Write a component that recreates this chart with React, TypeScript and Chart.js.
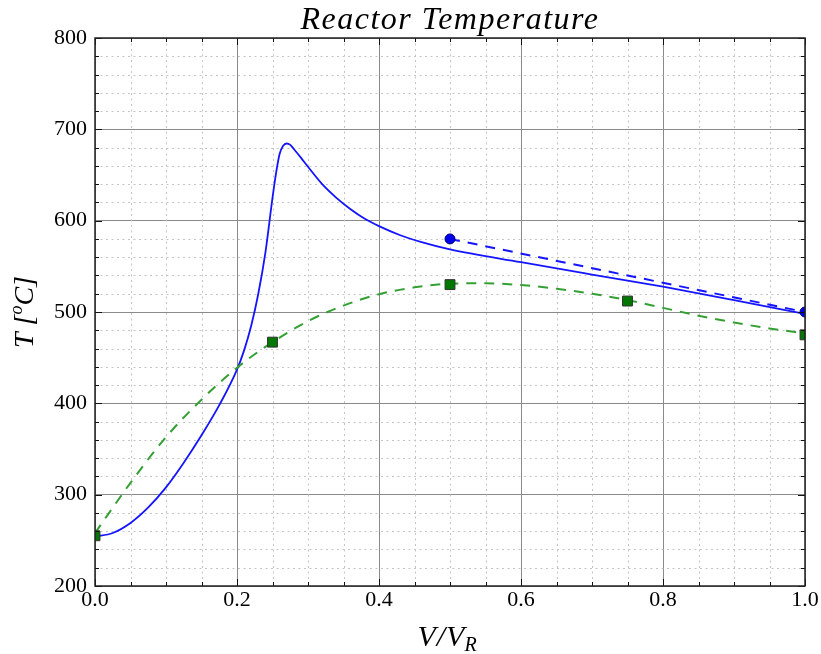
import React, { useEffect, useRef } from 'react';
import { Chart, registerables } from 'chart.js';

Chart.register(...registerables);

// ---- data ----
const blueX = [0, 0.025, 0.05, 0.075, 0.1, 0.125, 0.15, 0.175, 0.2, 0.21, 0.22, 0.23, 0.24, 0.25, 0.255, 0.26, 0.265, 0.27, 0.275, 0.28, 0.29, 0.3, 0.32, 0.34, 0.36, 0.38, 0.4, 0.43, 0.46, 0.5, 0.6, 0.7, 0.8, 0.9, 1.0];
const blueT = [254, 258, 269, 286, 308, 335, 365, 398, 437, 458, 485, 520, 565, 625, 652, 673, 682, 684.5, 683, 678.5, 669, 659, 640, 625, 612.5, 602, 594, 584, 576.5, 568.5, 554.5, 541, 527.7, 513, 498];

const blueDashX = [0.5, 1.0];
const blueDashT = [580, 500];

const greenX = [0, 0.05, 0.1, 0.15, 0.2, 0.25, 0.3, 0.35, 0.4, 0.45, 0.5, 0.55, 0.6, 0.65, 0.7, 0.75, 0.8, 0.85, 0.9, 0.95, 1.0];
const greenT = [258, 313, 363, 404, 439, 467, 490, 507, 519.5, 527, 531, 531.5, 529.5, 525.5, 520, 513, 504.5, 496, 488.5, 482, 476.5];

const greenMarkX = [0, 0.25, 0.5, 0.75, 1.0];
const greenMarkT = [255, 467, 530, 512, 475];

const xTicks = [0, 0.2, 0.4, 0.6, 0.8, 1.0];
const yTicks = [200, 300, 400, 500, 600, 700, 800];
const xMinorStep = 0.05;
const yMinorStep = 20;

const titleText = 'Reactor Temperature';

const zip = (xs: number[], ys: number[]) => xs.map((x, i) => ({ x, y: ys[i] }));

const SERIF = '"Liberation Serif", "Times New Roman", serif';

const decorPlugin = {
  id: 'decor',
  beforeDatasetsDraw(chart: any) {
    const { ctx, chartArea: a, scales } = chart;
    const xs = scales.x;
    const ys = scales.y;
    ctx.save();
    ctx.strokeStyle = '#c4c4c4';
    ctx.lineWidth = 1;
    ctx.setLineDash([2, 3.5]);
    for (let v = xs.min; v <= xs.max + 1e-9; v += xMinorStep) {
      const r = Math.round(v * 1000) / 1000;
      if (xTicks.some((t) => Math.abs(t - r) < 1e-6)) continue;
      const px = Math.round(xs.getPixelForValue(r)) + 0.5;
      ctx.beginPath();
      ctx.moveTo(px, a.top);
      ctx.lineTo(px, a.bottom);
      ctx.stroke();
    }
    for (let v = ys.min; v <= ys.max + 1e-9; v += yMinorStep) {
      if (yTicks.some((t) => Math.abs(t - v) < 1e-6)) continue;
      const py = Math.round(ys.getPixelForValue(v)) + 0.5;
      ctx.beginPath();
      ctx.moveTo(a.left, py);
      ctx.lineTo(a.right, py);
      ctx.stroke();
    }
    ctx.restore();
  },
  afterDatasetsDraw(chart: any) {
    const { ctx, chartArea: a, scales } = chart;
    const xs = scales.x;
    const ys = scales.y;
    ctx.save();
    ctx.setLineDash([]);
    // tick marks (inward, all sides)
    ctx.strokeStyle = '#111';
    ctx.lineWidth = 1;
    for (let v = xs.min; v <= xs.max + 1e-9; v += xMinorStep) {
      const r = Math.round(v * 1000) / 1000;
      const major = xTicks.some((t) => Math.abs(t - r) < 1e-6);
      const len = major ? 7 : 4;
      const px = Math.round(xs.getPixelForValue(r)) + 0.5;
      ctx.beginPath();
      ctx.moveTo(px, a.bottom);
      ctx.lineTo(px, a.bottom - len);
      ctx.moveTo(px, a.top);
      ctx.lineTo(px, a.top + len);
      ctx.stroke();
    }
    for (let v = ys.min; v <= ys.max + 1e-9; v += yMinorStep) {
      const major = yTicks.some((t) => Math.abs(t - v) < 1e-6);
      const len = major ? 7 : 4;
      const py = Math.round(ys.getPixelForValue(v)) + 0.5;
      ctx.beginPath();
      ctx.moveTo(a.left, py);
      ctx.lineTo(a.left + len, py);
      ctx.moveTo(a.right, py);
      ctx.lineTo(a.right - len, py);
      ctx.stroke();
    }
    // frame
    ctx.strokeStyle = '#222';
    ctx.lineWidth = 1.5;
    ctx.strokeRect(a.left, a.top, a.right - a.left, a.bottom - a.top);

    // title
    ctx.fillStyle = '#000';
    ctx.font = `italic 32px ${SERIF}`;
    (ctx as any).letterSpacing = '1.5px';
    ctx.textAlign = 'center';
    ctx.textBaseline = 'alphabetic';
    const cx = (a.left + a.right) / 2;
    ctx.fillText(titleText, cx, 29);

    // x label  V/V_R
    (ctx as any).letterSpacing = '1px';
    ctx.textAlign = 'left';
    const mainFont = `italic 30px ${SERIF}`;
    const subFont = `italic 20px ${SERIF}`;
    ctx.font = mainFont;
    const w1 = ctx.measureText('V/V').width;
    ctx.font = subFont;
    const w2 = ctx.measureText('R').width;
    const sx = cx - (w1 + w2) / 2 - 2;
    ctx.font = mainFont;
    ctx.fillText('V/V', sx, 646);
    ctx.font = subFont;
    ctx.fillText('R', sx + w1 - 1, 651);
    (ctx as any).letterSpacing = '0px';

    // y label  T [^oC]
    const cy = (a.top + a.bottom) / 2;
    ctx.translate(33, cy);
    ctx.rotate(-Math.PI / 2);
    const yMain = `italic 28px ${SERIF}`;
    const ySup = `italic 18px ${SERIF}`;
    ctx.font = yMain;
    const p1 = 'T [';
    const p3 = 'C]';
    const wp1 = ctx.measureText(p1).width;
    const wp3 = ctx.measureText(p3).width;
    ctx.font = ySup;
    const wp2 = ctx.measureText('o').width;
    const total = wp1 + wp2 + wp3;
    let tx = -total / 2;
    ctx.font = yMain;
    ctx.fillText(p1, tx, 0);
    tx += wp1;
    ctx.font = ySup;
    ctx.fillText('o', tx, -11);
    tx += wp2;
    ctx.font = yMain;
    ctx.fillText(p3, tx, 0);
    ctx.restore();
  },
};

export default function App() {
  const ref = useRef<HTMLCanvasElement | null>(null);

  useEffect(() => {
    if (!ref.current) return;
    const blue = 'rgb(20, 20, 255)';
    const chart = new Chart(ref.current, {
      type: 'line',
      data: {
        datasets: [
          {
            label: 'T model',
            data: zip(blueX, blueT),
            borderColor: blue,
            borderWidth: 1.8,
            pointRadius: 0,
            cubicInterpolationMode: 'monotone',
            fill: false,
            clip: 0,
            order: 4,
          },
          {
            label: 'T measured',
            data: zip(blueDashX, blueDashT),
            borderColor: blue,
            borderWidth: 2,
            borderDash: [10, 8],
            pointRadius: 5,
            pointBackgroundColor: 'rgb(0, 0, 235)',
            pointBorderColor: '#00007a',
            pointBorderWidth: 1,
            fill: false,
            clip: 0,
            order: 3,
          },
          {
            label: 'Tc model',
            data: zip(greenX, greenT),
            borderColor: 'rgb(52, 160, 52)',
            borderWidth: 2,
            borderDash: [10, 8],
            pointRadius: 0,
            cubicInterpolationMode: 'monotone',
            fill: false,
            clip: 0,
            order: 2,
          },
          {
            label: 'Tc measured',
            data: zip(greenMarkX, greenMarkT),
            showLine: false,
            pointStyle: 'rect',
            pointRadius: 7,
            pointBackgroundColor: 'rgb(0, 120, 0)',
            pointBorderColor: '#333',
            pointBorderWidth: 1,
            clip: 0,
            order: 1,
          },
        ],
      },
      options: {
        animation: false,
        responsive: false,
        devicePixelRatio: 1,
        layout: { padding: { left: 45, right: 16, top: 38, bottom: 28 } },
        plugins: {
          legend: { display: false },
          tooltip: { enabled: false },
          title: { display: false },
        },
        scales: {
          x: {
            type: 'linear',
            min: 0,
            max: 1,
            afterBuildTicks: (s: any) => {
              s.ticks = xTicks.map((v) => ({ value: v }));
            },
            afterFit: (s: any) => {
              s.height = 40;
            },
            ticks: {
              callback: (v: any) => Number(v).toFixed(1),
              font: { family: SERIF, size: 22 },
              color: '#000',
              padding: 1,
              maxRotation: 0,
            },
            grid: { color: '#8a8a8a', lineWidth: 1, drawTicks: false },
            border: { display: false },
          },
          y: {
            type: 'linear',
            min: 200,
            max: 800,
            afterBuildTicks: (s: any) => {
              s.ticks = yTicks.map((v) => ({ value: v }));
            },
            afterFit: (s: any) => {
              s.width = 50;
            },
            ticks: {
              callback: (v: any) => String(v),
              font: { family: SERIF, size: 22 },
              color: '#000',
              padding: 8,
            },
            grid: { color: '#8a8a8a', lineWidth: 1, drawTicks: false },
            border: { display: false },
          },
        },
      },
      plugins: [decorPlugin],
    } as any);
    return () => chart.destroy();
  }, []);

  return (
    <div style={{ position: 'fixed', left: 0, top: 0, width: 821, height: 654, background: '#fff' }}>
      <canvas ref={ref} width={821} height={654} style={{ display: 'block', width: 821, height: 654 }} />
    </div>
  );
}
